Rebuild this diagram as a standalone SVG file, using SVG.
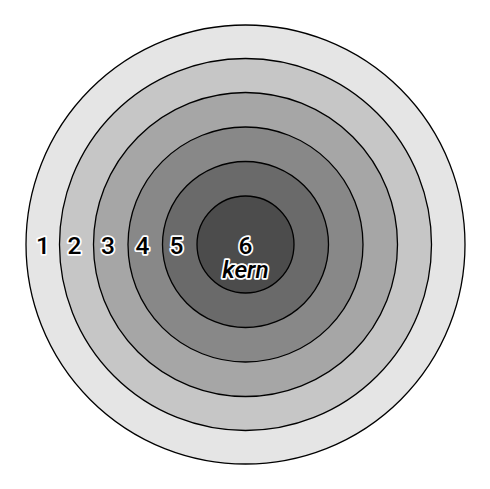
<svg xmlns="http://www.w3.org/2000/svg" width="490" height="489" viewBox="0 0 490 489">
<style>
.ring{stroke:#000;stroke-width:1.3}
.lbl{font-family:Roboto,"Liberation Sans",sans-serif;font-size:24.5px;font-weight:500;fill:#000;stroke:#fff;stroke-width:3.5;paint-order:stroke;stroke-linejoin:round;text-anchor:middle}
.it{font-style:italic}
</style>
<rect width="490" height="489" fill="#fff"/>
<g id="ring1"><circle class="ring" cx="245.5" cy="244.5" r="219.5" fill="#e5e5e5"/></g>
<g id="ring2"><circle class="ring" cx="245.5" cy="244.5" r="186" fill="#c6c6c6"/></g>
<g id="ring3"><circle class="ring" cx="245.5" cy="244.5" r="152" fill="#a6a6a6"/></g>
<g id="ring4"><circle class="ring" cx="245.5" cy="244.5" r="117.5" fill="#888888"/></g>
<g id="ring5"><circle class="ring" cx="245.5" cy="244.5" r="83" fill="#6a6a6a"/></g>
<g id="ring6"><circle class="ring" cx="245.5" cy="244.5" r="48.5" fill="#4c4c4c"/></g>
<g id="labels">
<text class="lbl" x="43" y="254">1</text>
<text class="lbl" x="74.5" y="254">2</text>
<text class="lbl" x="108" y="254">3</text>
<text class="lbl" x="142.5" y="254">4</text>
<text class="lbl" x="176.5" y="254">5</text>
<text class="lbl" x="245.5" y="254">6</text>
<text class="lbl it" x="245.5" y="277.5">kern</text>
</g>
</svg>
